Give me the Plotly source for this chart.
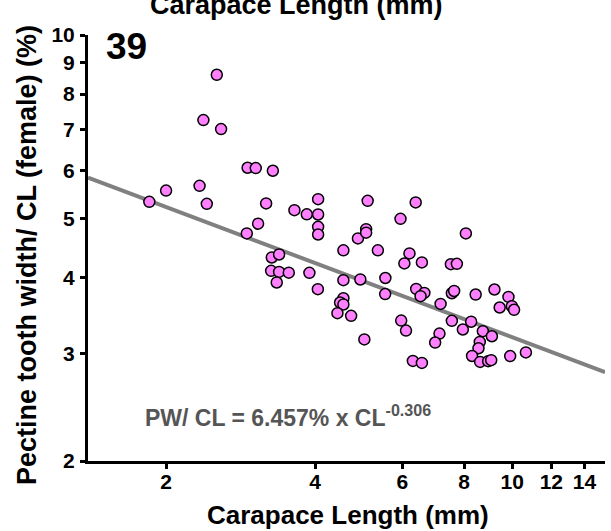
import plotly.graph_objects as go
import numpy as np

# Carapace length (mm)
cl = [1.850, 2.000, 2.337, 2.379, 2.417, 2.532, 2.583, 2.911, 2.922, 3.035,
      3.068, 3.185, 3.270, 3.286, 3.383, 3.260, 3.383, 3.539, 3.346, 3.633,
      3.848, 4.056, 4.056, 4.056, 4.056, 3.895, 4.051, 4.562, 4.562, 4.562,
      4.492, 4.562, 4.437, 4.729, 4.881, 5.071, 5.071, 5.107, 4.936, 5.029,
      5.355, 5.545, 5.540, 5.950, 6.203, 6.058, 5.969, 6.104, 6.302, 6.385,
      6.572, 6.400, 6.648, 6.531, 6.572, 7.169, 7.132, 6.990, 7.520, 7.733,
      7.554, 7.635, 7.554, 7.951, 8.063, 8.264, 8.439, 8.726, 9.100, 8.602,
      8.550, 8.299, 8.617, 8.944, 9.071, 9.210, 9.829, 9.436, 9.986, 10.09,
      9.908, 10.66]
# Pectine tooth width / CL (%)
pw = [5.324, 5.555, 5.656, 7.251, 5.284, 8.605, 7.009, 4.725, 6.056, 6.049,
      4.903, 5.292, 4.315, 5.988, 4.364, 4.102, 4.086, 4.074, 3.926, 5.159,
      5.078, 5.379, 5.076, 4.844, 4.706, 4.071, 3.828, 4.433, 3.960, 3.700,
      3.640, 3.613, 3.496, 3.461, 4.637, 4.801, 4.739, 5.345, 3.971, 3.166,
      4.433, 3.993, 3.758, 4.993, 4.381, 4.219, 3.400, 3.273, 2.919, 5.312,
      4.235, 3.832, 3.774, 3.728, 2.897, 3.621, 3.237, 3.129, 4.207, 4.212,
      3.770, 3.802, 3.396, 3.287, 4.725, 3.385, 3.751, 3.266, 3.204, 3.136,
      3.062, 2.974, 2.908, 2.916, 2.927, 3.823, 3.718, 3.572, 3.589, 3.541,
      2.973, 3.014]

fit_coef = 6.457
fit_exp = -0.306
fit_x = [1.391, 15.4]
fit_y = [fit_coef * v ** fit_exp for v in fit_x]

x_ticks = [2, 4, 6, 8, 10, 12, 14]
y_ticks = [2, 3, 4, 5, 6, 7, 8, 9, 10]

FONT = "Liberation Sans, Arial, sans-serif"

fig = go.Figure()
fig.add_trace(go.Scatter(x=fit_x, y=fit_y, mode="lines",
                         line=dict(color="#808080", width=4),
                         hoverinfo="skip", showlegend=False))
fig.add_trace(go.Scatter(x=cl, y=pw, mode="markers",
                         marker=dict(size=11, color="#FF80FF",
                                     line=dict(color="black", width=1.5)),
                         showlegend=False))

axis_common = dict(showgrid=False, zeroline=False, showline=True,
                   linecolor="black", linewidth=3, ticks="outside",
                   ticklen=5, tickwidth=3, tickcolor="black",
                   tickfont=dict(family=FONT, size=21, color="black", weight="bold"))

fig.update_xaxes(type="log", range=[np.log10(1.391), np.log10(15.4)],
                 tickvals=x_ticks, ticktext=[str(v) for v in x_ticks],
                 ticklabelstandoff=-5, **axis_common)
fig.update_yaxes(type="log", range=[np.log10(2), 1],
                 tickvals=y_ticks, ticktext=[str(v) for v in y_ticks],
                 ticklabelstandoff=1, **axis_common)

fig.update_layout(
    width=611, height=531,
    margin=dict(l=88, r=6, t=35, b=70),
    plot_bgcolor="white", paper_bgcolor="white",
    annotations=[
        dict(text="Carapace Length (mm)", xref="paper", yref="paper",
             x=0.404, y=1.030, xanchor="center", yanchor="bottom",
             showarrow=False,
             font=dict(family=FONT, size=27, color="black", weight="bold")),
        dict(text="Carapace Length (mm)", xref="paper", yref="paper",
             x=0.5029, y=-0.127, xanchor="center", yanchor="middle",
             showarrow=False,
             font=dict(family=FONT, size=26, color="black", weight="bold")),
        dict(text="Pectine tooth width/ CL (female) (%)", xref="paper", yref="paper",
             x=-0.118, y=0.4836, xanchor="center", yanchor="middle",
             textangle=-90, showarrow=False,
             font=dict(family=FONT, size=27, color="black", weight="bold")),
        dict(text="39", xref="paper", yref="paper",
             x=0.031, y=1.025, xanchor="left", yanchor="top",
             showarrow=False,
             font=dict(family=FONT, size=37, color="black", weight="bold")),
        dict(text="PW/ CL = 6.457% x CL<sup>-0.306</sup>", xref="paper", yref="paper",
             x=0.1064, y=0.066, xanchor="left", yanchor="bottom",
             showarrow=False,
             font=dict(family=FONT, size=23, color="#555555", weight="bold")),
    ],
)

fig.write_html("out.html")
